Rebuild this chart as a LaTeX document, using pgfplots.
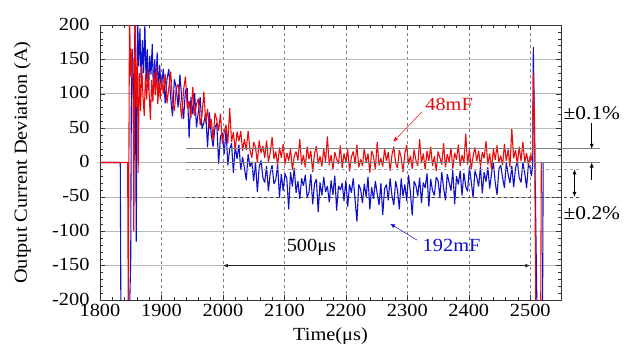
\documentclass[border=0pt]{standalone}
\usepackage{fontspec}
\setmainfont[FakeStretch=1.1]{Liberation Serif}
\usepackage{pgfplots}
\pgfplotsset{compat=1.18}
\usetikzlibrary{arrows.meta}
\definecolor{cred}{RGB}{235,10,10}
\definecolor{cblue}{RGB}{15,15,205}
\newcommand{\fs}{\fontsize{18.5}{21}\selectfont}
\begin{document}
\begin{tikzpicture}
\begin{axis}[
  width=461pt, height=275pt, scale only axis,
  xmin=1800, xmax=2550, ymin=-200, ymax=200,
  xtick={1800,1900,2000,2100,2200,2300,2400,2500},
  xticklabels={1800,1900,2000,2100,2200,2300,2400,2500},
  ytick={-200,-150,-100,-50,0,50,100,150,200},
  yticklabels={-200,-150,-100,-50,0,50,100,150,200},
  minor x tick num=4, minor y tick num=4,
  xmajorgrids, ymajorgrids,
  x grid style={gray, dashed, line width=0.5pt},
  y grid style={gray!55, line width=0.7pt},
  axis line style={black!80, line width=0.6pt},
  tick style={black!80, line width=0.5pt},
  major tick length=5pt, minor tick length=3pt,
  font=\fs,
  xticklabel style={yshift=-1pt},
  yticklabel style={xshift=-7pt, yshift=1pt},
  xlabel={Time(μs)}, ylabel={Output Current Deviation (A)},
  xlabel style={at={(axis description cs:0.5,-0.13)}, anchor=center},
  ylabel style={at={(axis description cs:-0.1685,0.5)}, anchor=center},
  clip mode=individual,
]
% 192mF (blue)
\addplot[cblue, line width=1.1pt, line join=bevel] coordinates {
(1800,0)(1833,0)(1834,-220)(1848,-220)(1850,-140)(1851,100)(1853,165)(1855,45)(1857,220)(1859,-115)
(1861,220)(1863,140)(1865,195)(1867,115)(1869,178)(1871,130)(1873,200)(1875,118)(1877,165)(1879,105)
(1881,155)(1883,128)(1885,172)(1887,100)(1889,150)(1891,112)(1893,160)(1895,98)(1897,142)(1899,115)
(1900,111)(1903,136)(1906,86)(1909,121)(1912,136)(1915,94)(1918,67)(1921,121)(1924,109)(1927,80)
(1930,128)(1933,93)(1936,63)(1939,105)(1942,108)(1945,36)(1948,95)(1951,70)(1954,101)(1957,51)
(1960,74)(1963,95)(1966,49)(1969,58)(1972,72)(1975,22)(1978,73)(1981,40)(1984,23)(1987,51)
(1990,57)(1993,-2)(1996,38)(1999,43)(2002,12)(2005,48)(2008,-4)(2011,19)(2014,28)(2017,-15)
(2020,24)(2023,5)(2026,26)(2029,-11)(2032,8)(2035,-8)(2038,-26)(2041,12)(2044,-6)(2047,1)
(2050,-27)(2053,1)(2056,-43)(2059,-7)(2062,3)(2065,-22)(2068,-29)(2071,-5)(2074,-42)(2077,-15)
(2080,-4)(2083,-31)(2086,-25)(2089,-3)(2092,-51)(2095,-17)(2098,-41)(2101,-16)(2104,-24)(2107,-68)
(2110,-14)(2113,-35)(2116,-8)(2119,-44)(2122,-27)(2125,-53)(2128,-23)(2131,-34)(2134,-18)(2137,-51)
(2140,-43)(2143,-17)(2146,-61)(2149,-31)(2152,-24)(2155,-72)(2158,-29)(2161,-48)(2164,-21)(2167,-43)
(2170,-34)(2173,-58)(2176,-26)(2179,-47)(2182,-19)(2185,-70)(2188,-34)(2191,-40)(2194,-30)(2197,-56)
(2200,-26)(2203,-64)(2206,-32)(2209,-44)(2212,-23)(2215,-54)(2218,-86)(2221,-32)(2224,-39)(2227,-59)
(2230,-31)(2233,-50)(2236,-21)(2239,-68)(2242,-36)(2245,-53)(2248,-27)(2251,-45)(2254,-62)(2257,-30)
(2260,-76)(2263,-38)(2266,-32)(2269,-55)(2272,-23)(2275,-48)(2278,-62)(2281,-27)(2284,-40)(2287,-68)
(2290,-23)(2293,-49)(2296,-32)(2299,-56)(2302,-18)(2305,-43)(2308,-77)(2311,-27)(2314,-34)(2317,-49)
(2320,-22)(2323,-59)(2326,-29)(2329,-37)(2332,-16)(2335,-64)(2338,-24)(2341,-41)(2344,-48)(2347,-21)
(2350,-27)(2353,-50)(2356,-14)(2359,-37)(2362,-55)(2365,-17)(2368,-29)(2371,-41)(2374,-11)(2377,-61)
(2380,-20)(2383,-32)(2386,-12)(2389,-48)(2392,-15)(2395,-35)(2398,-42)(2401,-6)(2404,-28)(2407,-51)
(2410,-12)(2413,-21)(2416,-35)(2419,-6)(2422,-45)(2425,-14)(2428,-28)(2431,-7)(2434,-38)(2437,-16)
(2440,0)(2443,-29)(2446,-47)(2449,-9)(2452,-4)(2455,-22)(2458,-37)(2461,0)(2464,-17)(2467,-30)
(2470,-5)(2473,-36)(2476,-8)(2479,2)(2482,-22)(2485,-29)(2488,0)(2491,-15)(2494,-37)(2497,-3)
(2500,-8)(2502,-20)(2504,-2)(2505,168)(2507,40)(2511,-220)(2520,-220)(2521,0)
};
% 48mF (red)
\addplot[cred, line width=1.1pt, line join=bevel] coordinates {
(1800,0)(1845,0)(1846,-220)(1848,220)(1850,125)(1852,165)(1854,90)(1855,-100)(1857,220)(1859,80)
(1861,150)(1862,-15)(1864,130)(1866,75)(1868,140)(1870,95)(1872,68)(1874,128)(1876,92)(1878,135)
(1880,100)(1882,62)(1884,120)(1886,88)(1888,132)(1890,98)(1892,140)(1894,85)(1896,118)(1898,92)
(1900,123)(1903,100)(1906,129)(1909,86)(1912,109)(1915,132)(1918,88)(1921,75)(1924,108)(1927,114)
(1930,90)(1933,64)(1936,106)(1939,125)(1942,79)(1945,89)(1948,65)(1951,110)(1954,68)(1957,85)
(1960,93)(1963,54)(1966,69)(1969,103)(1972,58)(1975,78)(1978,49)(1981,63)(1984,32)(1987,72)
(1990,62)(1993,46)(1996,71)(1999,28)(2002,44)(2005,55)(2008,28)(2011,79)(2014,30)(2017,44)
(2020,18)(2023,45)(2026,31)(2029,46)(2032,17)(2035,34)(2038,18)(2041,46)(2044,18)(2047,7)
(2050,30)(2053,22)(2056,0)(2059,32)(2062,14)(2065,24)(2068,7)(2071,32)(2074,1)(2077,15)
(2080,37)(2083,5)(2086,16)(2089,-5)(2092,22)(2095,7)(2098,27)(2101,-3)(2104,14)(2107,2)
(2110,20)(2113,-11)(2116,9)(2119,16)(2122,3)(2125,34)(2128,-3)(2131,11)(2134,-7)(2137,23)
(2140,5)(2143,17)(2146,-14)(2149,13)(2152,24)(2155,-2)(2158,9)(2161,-6)(2164,20)(2167,1)
(2170,38)(2173,-4)(2176,11)(2179,-10)(2182,15)(2185,5)(2188,-2)(2191,25)(2194,-8)(2197,13)
(2200,1)(2203,19)(2206,-13)(2209,8)(2212,16)(2215,-2)(2218,26)(2221,-7)(2224,5)(2227,-5)
(2230,21)(2233,0)(2236,13)(2239,-15)(2242,17)(2245,9)(2248,-10)(2251,30)(2254,-4)(2257,6)
(2260,-6)(2263,20)(2266,2)(2269,15)(2272,-12)(2275,11)(2278,23)(2281,-1)(2284,-8)(2287,18)
(2290,7)(2293,-14)(2296,14)(2299,25)(2302,-3)(2305,10)(2308,-9)(2311,19)(2314,3)(2317,-5)
(2320,34)(2323,-1)(2326,13)(2329,-10)(2332,17)(2335,2)(2338,23)(2341,-5)(2344,9)(2347,-12)
(2350,16)(2353,7)(2356,-3)(2359,28)(2362,-7)(2365,12)(2368,1)(2371,21)(2374,-9)(2377,14)
(2380,4)(2383,26)(2386,-5)(2389,11)(2392,-1)(2395,42)(2398,-3)(2401,19)(2404,-10)(2407,9)
(2410,22)(2413,2)(2416,17)(2419,-6)(2422,15)(2425,6)(2428,31)(2431,-3)(2434,13)(2437,-11)
(2440,20)(2443,4)(2446,25)(2449,0)(2452,10)(2455,-4)(2458,27)(2461,2)(2464,19)(2467,-7)
(2470,49)(2473,6)(2476,18)(2479,-2)(2482,23)(2485,2)(2488,30)(2491,0)(2494,14)(2497,-4)
(2500,10)(2502,3)(2504,20)(2505,130)(2507,60)(2509,-220)(2517,-220)(2518,0)
};
% reference lines
\draw[gray, line width=0.6pt] (axis cs:1940,20) -- (axis cs:2614,20);
\draw[gray, line width=0.6pt] (axis cs:1940,0) -- (axis cs:2614,0);
\draw[gray!70, dashed, line width=0.6pt] (axis cs:1940,-10) -- (axis cs:2582,-10);
\draw[black!75, dashed, line width=0.6pt] (axis cs:1940,-50) -- (axis cs:2582,-50);
% arrows
\draw[black, line width=0.6pt, -{Latex[length=5pt,width=4pt]}] (axis cs:2600,57) -- (axis cs:2600,20);
\draw[black, line width=0.6pt, -{Latex[length=5pt,width=4pt]}] (axis cs:2600,-25) -- (axis cs:2600,0);
\draw[black, line width=0.6pt, {Latex[length=5pt,width=4pt]}-{Latex[length=5pt,width=4pt]}] (axis cs:2572,-10) -- (axis cs:2572,-50);
\draw[black!85, line width=0.7pt, {Latex[length=5pt,width=4pt]}-{Latex[length=5pt,width=4pt]}] (axis cs:2000,-150) -- (axis cs:2500,-150);
\draw[cred, line width=0.5pt, -{Latex[length=5pt,width=4pt]}] (axis cs:2324,74) -- (axis cs:2277,30);
\draw[cblue, line width=0.5pt, -{Latex[length=5pt,width=4pt]}] (axis cs:2316,-113) -- (axis cs:2272,-89);
% labels
\node[text=cred, font=\fs] at (axis cs:2368,85) {48mF};
\node[text=cblue, font=\fs] at (axis cs:2372,-121) {192mF};
\node[font=\fs] at (axis cs:2144,-124) {500μs};
\node[anchor=west, inner sep=0pt, font=\fontsize{19.5}{21}\selectfont] at (axis cs:2554,72) {±0.1\%};
\node[anchor=west, inner sep=0pt, font=\fontsize{19.5}{21}\selectfont] at (axis cs:2554,-74) {±0.2\%};
\end{axis}
\pgfresetboundingbox
\path (current axis.south west) ++(-100pt,-49pt) rectangle ++(627pt,349pt);
\end{tikzpicture}
\end{document}
